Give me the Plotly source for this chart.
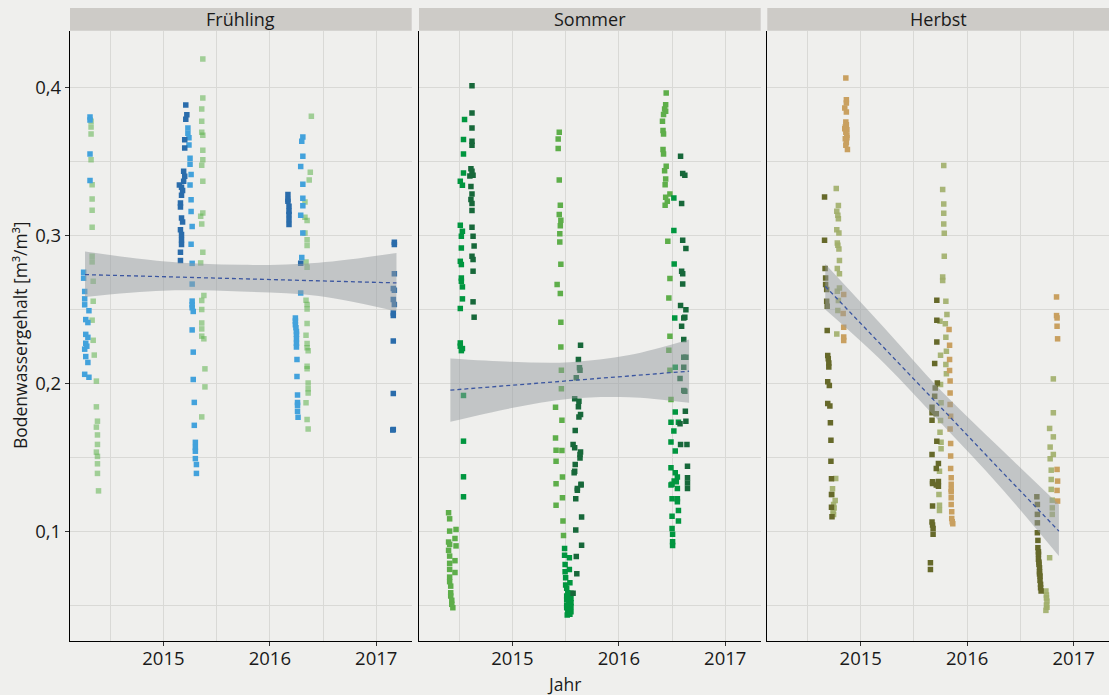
import plotly.graph_objects as go

# --- Facetten und Achsen -------------------------------------------------
FACETTEN = ["Frühling", "Sommer", "Herbst"]
JAHRE = [2015, 2016, 2017]
X_BEREICH = [2014.122, 2017.333]
Y_BEREICH = [0.0257, 0.4383]

# --- Messwerte (Jahr, Bodenwassergehalt) ---------------------------------
# Frühling
FR_DUNKELBLAU = [
    (2015.21, 0.388), (2015.22, 0.3815), (2015.21, 0.3785), (2015.20, 0.3645), (2015.20, 0.359),
    (2015.19, 0.3432), (2015.20, 0.3399), (2015.19, 0.3365), (2015.17, 0.3324), (2015.18, 0.3302),
    (2015.15, 0.334), (2015.17, 0.327), (2015.16, 0.3218), (2015.16, 0.3191), (2015.17, 0.3117),
    (2015.18, 0.309), (2015.16, 0.3038), (2015.17, 0.3005), (2015.17, 0.297), (2015.17, 0.2937),
    (2015.16, 0.2885), (2015.16, 0.2829),
    (2016.17, 0.3275), (2016.17, 0.3241), (2016.17, 0.323), (2016.18, 0.3196), (2016.18, 0.3162),
    (2016.18, 0.314), (2016.18, 0.3106), (2016.18, 0.3072), (2016.29, 0.281),
    (2017.17, 0.2953), (2017.17, 0.2937), (2017.17, 0.2739), (2017.16, 0.264), (2017.17, 0.2628),
    (2017.16, 0.2565), (2017.17, 0.2532), (2017.16, 0.2475), (2017.16, 0.2457), (2017.16, 0.2286),
    (2017.16, 0.193), (2017.16, 0.1687), (2017.155, 0.1683),
]
FR_BLAU = [
    (2014.31, 0.380), (2014.31, 0.378), (2014.31, 0.355), (2014.31, 0.337), (2014.25, 0.275),
    (2014.25, 0.271), (2014.26, 0.262), (2014.26, 0.257), (2014.26, 0.253), (2014.30, 0.249),
    (2014.27, 0.243), (2014.29, 0.241), (2014.27, 0.233), (2014.29, 0.231), (2014.27, 0.227),
    (2014.28, 0.225), (2014.26, 0.223), (2014.27, 0.218), (2014.29, 0.214), (2014.26, 0.206),
    (2014.30, 0.204),
    (2015.23, 0.3725), (2015.23, 0.369), (2015.24, 0.366), (2015.24, 0.361), (2015.25, 0.352),
    (2015.25, 0.348), (2015.26, 0.341), (2015.25, 0.334), (2015.26, 0.324), (2015.26, 0.316),
    (2015.27, 0.306), (2015.26, 0.294), (2015.27, 0.281), (2015.27, 0.267), (2015.27, 0.2555),
    (2015.27, 0.253), (2015.27, 0.251), (2015.28, 0.2485), (2015.27, 0.236), (2015.28, 0.221),
    (2015.28, 0.2025), (2015.29, 0.187), (2015.29, 0.1715), (2015.30, 0.160), (2015.30, 0.1565),
    (2015.30, 0.154), (2015.30, 0.149), (2015.31, 0.145), (2015.31, 0.139),
    (2016.31, 0.3665), (2016.30, 0.3635), (2016.31, 0.3535), (2016.29, 0.3465), (2016.31, 0.3345),
    (2016.31, 0.325), (2016.31, 0.320), (2016.29, 0.3135), (2016.31, 0.3015), (2016.30, 0.285),
    (2016.29, 0.261), (2016.24, 0.244), (2016.24, 0.242), (2016.24, 0.2395), (2016.245, 0.2375),
    (2016.25, 0.235), (2016.25, 0.233), (2016.25, 0.230), (2016.25, 0.227), (2016.25, 0.2245),
    (2016.255, 0.216), (2016.255, 0.2045), (2016.26, 0.192), (2016.26, 0.187), (2016.26, 0.185),
    (2016.26, 0.181), (2016.265, 0.177),
]
FR_HELLGRUEN = [
    (2014.32, 0.377), (2014.32, 0.3732), (2014.32, 0.3685), (2014.32, 0.351), (2014.33, 0.3342),
    (2014.33, 0.3245), (2014.33, 0.3169), (2014.33, 0.3054), (2014.33, 0.2858), (2014.33, 0.282),
    (2014.34, 0.2689), (2014.34, 0.2554), (2014.33, 0.2426), (2014.34, 0.229), (2014.35, 0.219),
    (2014.37, 0.2014), (2014.37, 0.184), (2014.38, 0.1743), (2014.37, 0.1703), (2014.38, 0.165),
    (2014.38, 0.1586), (2014.37, 0.1534), (2014.38, 0.1505), (2014.38, 0.1455), (2014.38, 0.139),
    (2014.39, 0.1272),
    (2015.37, 0.4191), (2015.37, 0.3928), (2015.36, 0.3853), (2015.36, 0.377), (2015.36, 0.3696),
    (2015.37, 0.3676), (2015.37, 0.3574), (2015.37, 0.3511), (2015.36, 0.3473), (2015.37, 0.3365),
    (2015.37, 0.3151), (2015.35, 0.3128), (2015.36, 0.3076), (2015.37, 0.2885), (2015.35, 0.2813),
    (2015.38, 0.2593), (2015.36, 0.2559), (2015.36, 0.2498), (2015.36, 0.2407), (2015.36, 0.2367),
    (2015.36, 0.2318), (2015.38, 0.23), (2015.39, 0.2097), (2015.39, 0.1975), (2015.36, 0.1772),
    (2016.39, 0.3804), (2016.38, 0.3426), (2016.37, 0.3374), (2016.33, 0.3225), (2016.33, 0.3122),
    (2016.35, 0.3099), (2016.33, 0.3016), (2016.35, 0.297), (2016.35, 0.293), (2016.34, 0.282),
    (2016.35, 0.2784), (2016.34, 0.2561), (2016.35, 0.2532), (2016.35, 0.2502), (2016.35, 0.2403),
    (2016.34, 0.2324), (2016.35, 0.2268), (2016.35, 0.2239), (2016.36, 0.222), (2016.35, 0.2115),
    (2016.35, 0.2097), (2016.36, 0.2002), (2016.36, 0.1962), (2016.36, 0.1934), (2016.34, 0.1867),
    (2016.35, 0.1755), (2016.36, 0.1691),
]

# Sommer
SO_DUNKELGRUEN = [
    (2014.62, 0.4011), (2014.62, 0.3826), (2014.62, 0.3725), (2014.62, 0.3635), (2014.62, 0.3608),
    (2014.61, 0.345), (2014.62, 0.3432), (2014.63, 0.3405), (2014.60, 0.340), (2014.61, 0.333),
    (2014.62, 0.3279), (2014.61, 0.3241), (2014.62, 0.3214), (2014.62, 0.3167), (2014.62, 0.3054),
    (2014.63, 0.2993), (2014.64, 0.2928), (2014.63, 0.2836), (2014.62, 0.2858), (2014.63, 0.2757),
    (2014.63, 0.255), (2014.64, 0.2446),
    (2015.64, 0.2257), (2015.62, 0.216), (2015.63, 0.2104), (2015.635, 0.2088), (2015.60, 0.2036),
    (2015.585, 0.1894), (2015.625, 0.1878), (2015.62, 0.184), (2015.64, 0.1788), (2015.625, 0.1772),
    (2015.59, 0.168), (2015.57, 0.1586), (2015.585, 0.1563), (2015.64, 0.1534), (2015.635, 0.1518),
    (2015.635, 0.1495), (2015.59, 0.1451), (2015.585, 0.1405), (2015.58, 0.1394), (2015.645, 0.1316),
    (2015.645, 0.1311), (2015.61, 0.1288), (2015.61, 0.1277), (2015.595, 0.1218), (2015.65, 0.1095),
    (2015.595, 0.1007), (2015.65, 0.0905), (2015.60, 0.0829), (2015.605, 0.0712), (2015.57, 0.0579),
    (2016.58, 0.3534), (2016.60, 0.3417), (2016.62, 0.3405), (2016.59, 0.3214), (2016.60, 0.2966),
    (2016.63, 0.291), (2016.59, 0.2757), (2016.60, 0.2739), (2016.60, 0.2671), (2016.58, 0.2525),
    (2016.63, 0.2496), (2016.61, 0.2441), (2016.62, 0.2445), (2016.59, 0.2385), (2016.61, 0.2295),
    (2016.61, 0.2176), (2016.63, 0.2176), (2016.61, 0.2108), (2016.575, 0.2032), (2016.61, 0.1951),
    (2016.62, 0.1945), (2016.625, 0.1811), (2016.63, 0.1743), (2016.575, 0.1725), (2016.58, 0.1586),
    (2016.64, 0.1586), (2016.645, 0.1439), (2016.645, 0.136), (2016.645, 0.1326), (2016.645, 0.1288),
]
SO_GRUEN = [
    (2014.55, 0.3782), (2014.54, 0.3647), (2014.54, 0.355), (2014.54, 0.3421), (2014.51, 0.3365),
    (2014.53, 0.3338), (2014.51, 0.3068), (2014.53, 0.3027), (2014.52, 0.2993), (2014.52, 0.2914),
    (2014.51, 0.2824), (2014.52, 0.2802), (2014.52, 0.2711), (2014.52, 0.2689), (2014.53, 0.2651),
    (2014.53, 0.257), (2014.51, 0.2505), (2014.51, 0.2272), (2014.51, 0.225), (2014.53, 0.2234),
    (2014.52, 0.222), (2014.54, 0.1917), (2014.54, 0.1608), (2014.54, 0.1367), (2014.54, 0.1232),
    (2015.49, 0.0883), (2015.49, 0.0836), (2015.535, 0.082), (2015.495, 0.0775), (2015.535, 0.0741),
    (2015.495, 0.0725), (2015.50, 0.0684), (2015.54, 0.0651), (2015.50, 0.0635), (2015.51, 0.0613),
    (2015.52, 0.0583), (2015.55, 0.058), (2015.51, 0.0561), (2015.53, 0.055), (2015.55, 0.0545),
    (2015.51, 0.0539), (2015.53, 0.052), (2015.55, 0.0516), (2015.51, 0.050), (2015.53, 0.0495),
    (2015.55, 0.049), (2015.51, 0.0482), (2015.54, 0.047), (2015.52, 0.0464), (2015.55, 0.0455),
    (2015.53, 0.0448), (2015.54, 0.0438), (2015.515, 0.0432),
    (2016.517, 0.3252), (2016.517, 0.3032), (2016.52, 0.2806), (2016.525, 0.2441), (2016.53, 0.2108),
    (2016.53, 0.1806), (2016.49, 0.1736), (2016.56, 0.1736), (2016.517, 0.1676), (2016.49, 0.1603),
    (2016.53, 0.1541), (2016.49, 0.1428), (2016.53, 0.1394), (2016.52, 0.1338), (2016.50, 0.1316),
    (2016.55, 0.1365), (2016.54, 0.1334), (2016.49, 0.1311), (2016.55, 0.1288), (2016.50, 0.1218),
    (2016.55, 0.1218), (2016.55, 0.1198), (2016.56, 0.114), (2016.50, 0.1101), (2016.56, 0.1068),
    (2016.50, 0.1018), (2016.505, 0.0978), (2016.505, 0.0928), (2016.505, 0.0903),
]
SO_HELLGRUEN = [
    (2014.40, 0.1124), (2014.41, 0.1083), (2014.41, 0.100), (2014.47, 0.1011), (2014.46, 0.095),
    (2014.40, 0.0926), (2014.41, 0.091), (2014.47, 0.090), (2014.40, 0.087), (2014.41, 0.0831),
    (2014.46, 0.080), (2014.41, 0.0782), (2014.41, 0.0741), (2014.46, 0.072), (2014.41, 0.0689),
    (2014.41, 0.0658), (2014.42, 0.0628), (2014.42, 0.0583), (2014.42, 0.0561), (2014.43, 0.0532),
    (2014.43, 0.0505), (2014.44, 0.0482),
    (2015.44, 0.3696), (2015.43, 0.3651), (2015.43, 0.3586), (2015.44, 0.3374), (2015.45, 0.3203),
    (2015.44, 0.314), (2015.455, 0.3101), (2015.45, 0.3065), (2015.445, 0.3011), (2015.445, 0.2955),
    (2015.455, 0.2804), (2015.42, 0.2667), (2015.45, 0.2606), (2015.455, 0.2412), (2015.455, 0.2245),
    (2015.46, 0.2088), (2015.46, 0.1962), (2015.405, 0.1838), (2015.465, 0.175), (2015.405, 0.163),
    (2015.41, 0.1547), (2015.465, 0.1545), (2015.41, 0.1473), (2015.47, 0.1365), (2015.41, 0.132),
    (2015.47, 0.1225), (2015.41, 0.1174), (2015.475, 0.1068), (2015.48, 0.0971),
    (2016.445, 0.3962), (2016.44, 0.3883), (2016.43, 0.3853), (2016.44, 0.3838), (2016.42, 0.3816),
    (2016.41, 0.377), (2016.415, 0.3709), (2016.42, 0.3685), (2016.415, 0.3579), (2016.42, 0.355),
    (2016.445, 0.3466), (2016.43, 0.3437), (2016.44, 0.338), (2016.435, 0.3342), (2016.48, 0.3279),
    (2016.44, 0.3257), (2016.455, 0.323), (2016.435, 0.3203), (2016.46, 0.2959), (2016.48, 0.2707),
    (2016.47, 0.2576), (2016.48, 0.2318), (2016.47, 0.2223), (2016.48, 0.2088), (2016.49, 0.189),
]

# Herbst
HE_OLIV = [
    (2014.66, 0.3259), (2014.66, 0.2966), (2014.665, 0.2775), (2014.67, 0.2711), (2014.67, 0.2667),
    (2014.68, 0.2633), (2014.68, 0.2554), (2014.685, 0.252), (2014.685, 0.2356), (2014.69, 0.2187),
    (2014.695, 0.2165), (2014.70, 0.2137), (2014.70, 0.211), (2014.69, 0.2009), (2014.705, 0.1984),
    (2014.69, 0.1863), (2014.71, 0.1845), (2014.715, 0.1732), (2014.72, 0.1615), (2014.72, 0.1473),
    (2014.725, 0.1354), (2014.725, 0.1248), (2014.725, 0.1162), (2014.73, 0.1097),
    (2015.715, 0.2561), (2015.715, 0.2426), (2015.715, 0.2279), (2015.695, 0.2133), (2015.72, 0.2002),
    (2015.70, 0.1968), (2015.695, 0.1912), (2015.67, 0.1838), (2015.67, 0.180), (2015.71, 0.1793),
    (2015.67, 0.175), (2015.715, 0.1608), (2015.67, 0.1518), (2015.73, 0.1457), (2015.71, 0.1423),
    (2015.675, 0.1334), (2015.73, 0.1335), (2015.675, 0.1322), (2015.73, 0.1304), (2015.71, 0.1311),
    (2015.675, 0.1169), (2015.67, 0.1061), (2015.675, 0.1041), (2015.68, 0.1018), (2015.68, 0.0978),
    (2015.655, 0.0786), (2015.655, 0.0741),
    (2016.655, 0.1232), (2016.66, 0.118), (2016.66, 0.1113), (2016.66, 0.1056), (2016.66, 0.0989),
    (2016.665, 0.0937), (2016.665, 0.0888), (2016.67, 0.086), (2016.67, 0.0843), (2016.67, 0.0809),
    (2016.675, 0.079), (2016.675, 0.0775), (2016.68, 0.0752), (2016.68, 0.0725), (2016.68, 0.071),
    (2016.685, 0.0696), (2016.685, 0.0667), (2016.69, 0.064), (2016.69, 0.0617), (2016.695, 0.0595),
]
HE_HELLOLIV = [
    (2014.77, 0.3316), (2014.79, 0.3201), (2014.775, 0.3162), (2014.785, 0.3135), (2014.79, 0.3112),
    (2014.775, 0.3038), (2014.795, 0.3016), (2014.78, 0.2948), (2014.785, 0.2932), (2014.795, 0.2907),
    (2014.80, 0.2829), (2014.78, 0.2775), (2014.80, 0.2739), (2014.80, 0.2644), (2014.78, 0.2622),
    (2014.79, 0.2559), (2014.785, 0.2491), (2014.775, 0.2333), (2014.765, 0.1356), (2014.735, 0.1286),
    (2014.73, 0.1248), (2014.76, 0.1207), (2014.745, 0.118), (2014.75, 0.1157), (2014.74, 0.1135),
    (2014.745, 0.1113),
    (2015.78, 0.3471), (2015.77, 0.3309), (2015.78, 0.3212), (2015.78, 0.3149), (2015.78, 0.3077),
    (2015.785, 0.3014), (2015.785, 0.2858), (2015.77, 0.2718), (2015.77, 0.2694), (2015.80, 0.2554),
    (2015.81, 0.2464), (2015.745, 0.2419), (2015.795, 0.2401), (2015.80, 0.2311), (2015.805, 0.2216),
    (2015.75, 0.2189), (2015.80, 0.2126), (2015.805, 0.2063), (2015.75, 0.1991), (2015.755, 0.1867),
    (2015.75, 0.1748), (2015.745, 0.1669), (2015.755, 0.1601), (2015.755, 0.1556), (2015.74, 0.1405),
    (2015.735, 0.1248), (2015.74, 0.1174), (2015.74, 0.114),
    (2016.81, 0.2029), (2016.81, 0.180), (2016.775, 0.1694), (2016.81, 0.1637), (2016.78, 0.1568),
    (2016.81, 0.1518), (2016.78, 0.1489), (2016.79, 0.1412), (2016.79, 0.1349), (2016.79, 0.1282),
    (2016.80, 0.1209), (2016.80, 0.1157), (2016.80, 0.1113), (2016.775, 0.082), (2016.74, 0.0595),
    (2016.745, 0.0568), (2016.745, 0.0548), (2016.75, 0.0527), (2016.745, 0.050), (2016.75, 0.0485),
    (2016.74, 0.0464),
]
HE_SAND = [
    (2014.86, 0.4063), (2014.865, 0.3917), (2014.865, 0.3894), (2014.85, 0.386), (2014.865, 0.3833),
    (2014.86, 0.3766), (2014.865, 0.3748), (2014.855, 0.3732), (2014.85, 0.372), (2014.87, 0.3714),
    (2014.86, 0.3696), (2014.87, 0.3676), (2014.87, 0.366), (2014.855, 0.3653), (2014.865, 0.3628),
    (2014.86, 0.3608), (2014.875, 0.3579),
    (2014.84, 0.2599), (2014.835, 0.2471), (2014.84, 0.2378), (2014.84, 0.2313), (2014.84, 0.2288),
    (2015.83, 0.2363), (2015.835, 0.2257), (2015.835, 0.216), (2015.835, 0.2086), (2015.84, 0.2014),
    (2015.84, 0.1934), (2015.84, 0.1856), (2015.845, 0.1777), (2015.84, 0.1691), (2015.845, 0.1592),
    (2015.845, 0.1507), (2015.845, 0.1423), (2015.85, 0.136), (2015.85, 0.1316), (2015.85, 0.1282),
    (2015.85, 0.1266), (2015.85, 0.1225), (2015.85, 0.118), (2015.855, 0.113), (2015.855, 0.1086),
    (2015.86, 0.1063), (2015.865, 0.105),
    (2016.84, 0.2583), (2016.84, 0.2457), (2016.845, 0.2441), (2016.845, 0.2385), (2016.85, 0.230),
    (2016.845, 0.1417), (2016.85, 0.1338), (2016.845, 0.1275), (2016.85, 0.1203),
]

# --- lineare Trends mit Konfidenzband ------------------------------------
FR_TREND_X = [2014.263, 2014.99, 2015.73, 2016.46, 2017.19]
FR_TREND = [0.2734, 0.2720, 0.2706, 0.2692, 0.2678]
FR_OBEN = [0.289, 0.2825, 0.280, 0.2815, 0.288]
FR_UNTEN = [0.2583, 0.2625, 0.262, 0.259, 0.2486]

SO_TREND_X = [2014.417, 2014.98, 2015.54, 2016.10, 2016.66]
SO_TREND = [0.1953, 0.1985, 0.2017, 0.2049, 0.2081]
SO_OBEN = [0.2167, 0.2145, 0.2142, 0.219, 0.2295]
SO_UNTEN = [0.1739, 0.183, 0.1895, 0.1905, 0.1867]

HE_TREND_X = [2014.667, 2015.22, 2015.76, 2016.31, 2016.862]
HE_TREND = [0.2655, 0.2241, 0.1831, 0.1414, 0.100]
HE_OBEN = [0.2806, 0.2375, 0.1945, 0.156, 0.118]
HE_UNTEN = [0.2498, 0.2135, 0.1725, 0.130, 0.0831]

PUNKTE = [
    [(FR_HELLGRUEN, "rgba(95,179,78,0.55)"), (FR_BLAU, "#43a2dc"), (FR_DUNKELBLAU, "#2a6cab")],
    [(SO_HELLGRUEN, "#5eae4a"), (SO_GRUEN, "#00963f"), (SO_DUNKELGRUEN, "#17683a")],
    [(HE_HELLOLIV, "rgba(160,174,105,0.9)"), (HE_SAND, "#c9a060"), (HE_OLIV, "#66692a")],
]
TRENDS = [
    (FR_TREND_X, FR_TREND, FR_OBEN, FR_UNTEN),
    (SO_TREND_X, SO_TREND, SO_OBEN, SO_UNTEN),
    (HE_TREND_X, HE_TREND, HE_OBEN, HE_UNTEN),
]

W, H = 1109, 695
PANEL_PX = [(70, 411.7), (419, 760.7), (767.3, 1109)]
Y_DOMAIN = [1 - 641 / H, 1 - 30.7 / H]
SCHRIFT = "Open Sans"
HINTERGRUND = "#efefed"
GITTER = "#d9d9d6"

fig = go.Figure()

for i, (gruppen, trend) in enumerate(zip(PUNKTE, TRENDS)):
    xa = "x" if i == 0 else f"x{i + 1}"
    ya = "y" if i == 0 else f"y{i + 1}"

    for punkte, farbe in gruppen:
        fig.add_trace(
            go.Scatter(
                x=[p[0] for p in punkte],
                y=[p[1] for p in punkte],
                mode="markers",
                marker=dict(symbol="square", size=5.5, color=farbe, line=dict(width=0)),
                xaxis=xa,
                yaxis=ya,
                hoverinfo="skip",
            )
        )

    tx, ty, oben, unten = trend
    fig.add_trace(
        go.Scatter(
            x=tx, y=unten, mode="lines", line=dict(width=0, shape="spline"),
            xaxis=xa, yaxis=ya, hoverinfo="skip",
        )
    )
    fig.add_trace(
        go.Scatter(
            x=tx, y=oben, mode="lines", line=dict(width=0, shape="spline"),
            fill="tonexty", fillcolor="rgba(150,155,160,0.5)",
            xaxis=xa, yaxis=ya, hoverinfo="skip",
        )
    )
    fig.add_trace(
        go.Scatter(
            x=tx, y=ty, mode="lines",
            line=dict(color="#3b56a0", width=1.3, dash="4px,3px"),
            xaxis=xa, yaxis=ya, hoverinfo="skip",
        )
    )

layout = dict(
    width=W,
    height=H,
    margin=dict(l=0, r=0, t=0, b=0),
    paper_bgcolor=HINTERGRUND,
    plot_bgcolor=HINTERGRUND,
    showlegend=False,
    separators=",.",
    font=dict(family=SCHRIFT, color="#1a1a1a", size=18),
    shapes=[],
    annotations=[],
)

for i, (links, rechts) in enumerate(PANEL_PX):
    suffix = "" if i == 0 else str(i + 1)
    layout["xaxis" + suffix] = dict(
        domain=[links / W, rechts / W],
        range=X_BEREICH,
        anchor="y" + suffix,
        tickvals=JAHRE,
        tickformat="d",
        ticks="outside",
        ticklen=4,
        tickcolor="#333333",
        tickfont=dict(size=18.5),
        ticklabelstandoff=-3,
        showline=True,
        linecolor="black",
        linewidth=1.3,
        showgrid=True,
        gridcolor=GITTER,
        gridwidth=1.2,
        minor=dict(dtick=0.5, tick0=2014, showgrid=True, gridcolor=GITTER, gridwidth=1.2),
        zeroline=False,
    )
    layout["yaxis" + suffix] = dict(
        domain=Y_DOMAIN,
        range=Y_BEREICH,
        anchor="x" + suffix,
        dtick=0.1,
        tick0=0,
        tickformat=".1f",
        ticks="outside" if i == 0 else "",
        ticklen=4,
        tickcolor="#333333",
        showticklabels=(i == 0),
        tickfont=dict(size=18.5),
        showline=True,
        linecolor="black",
        linewidth=1.3,
        showgrid=True,
        gridcolor=GITTER,
        gridwidth=1.2,
        minor=dict(dtick=0.05, tick0=0, showgrid=True, gridcolor=GITTER, gridwidth=1.2),
        zeroline=False,
    )
    layout["shapes"].append(
        dict(
            type="rect", xref=f"x{suffix} domain", yref="paper",
            x0=0, x1=1, y0=1 - 30.7 / H, y1=1 - 8 / H,
            fillcolor="#cdcbc7", line=dict(width=0), layer="below",
        )
    )
    layout["annotations"].append(
        dict(
            text=FACETTEN[i], xref=f"x{suffix} domain", yref="paper",
            x=0.5, y=1 - 19.5 / H, showarrow=False,
            xanchor="center", yanchor="middle", font=dict(size=18),
        )
    )

layout["annotations"].append(
    dict(
        text="Bodenwassergehalt [m³/m³]", xref="paper", yref="paper",
        x=20 / W, y=1 - 336 / H, textangle=-90, showarrow=False,
        xanchor="center", yanchor="middle", font=dict(size=17.5),
    )
)
layout["annotations"].append(
    dict(
        text="Jahr", xref="paper", yref="paper",
        x=564 / W, y=1 - 684 / H, showarrow=False,
        xanchor="center", yanchor="middle", font=dict(size=17.5),
    )
)

fig.update_layout(layout)
# Seitenrand des Browsers entfernen, damit die Grafik exakt im Fenster sitzt
fig.write_html(
    "out.html",
    config={"displayModeBar": False},
    post_script="document.body.style.margin='0px';",
)
